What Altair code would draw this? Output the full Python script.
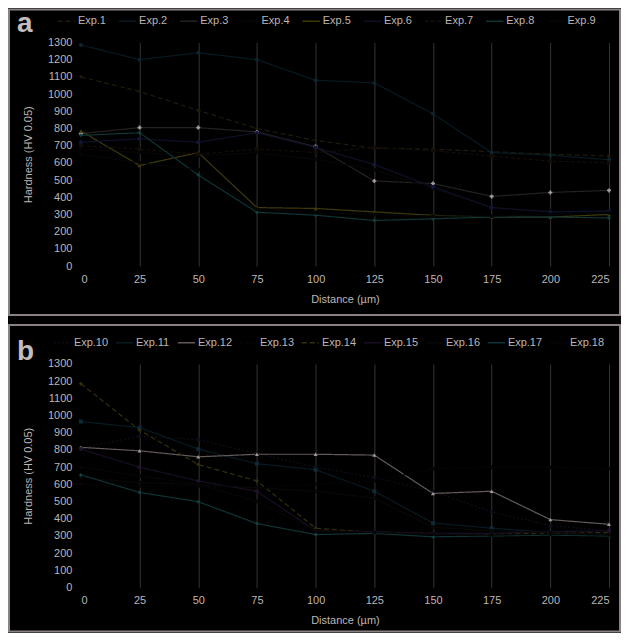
import pandas as pd
import altair as alt

# distance from the surface, µm
distance = [0, 25, 50, 75, 100, 125, 150, 175, 200, 225]

# panel a, hardness HV 0.05
exp1 = [1100, 1015, 905, 800, 730, 685, 680, 665, 650, 640]
exp2 = [1285, 1200, 1240, 1200, 1080, 1065, 885, 660, 645, 618]
exp3 = [770, 805, 805, 780, 695, 495, 480, 405, 428, 440]
exp4 = [680, 660, 640, 660, 620, 560, 450, 340, 320, 320]
exp5 = [785, 585, 660, 340, 335, 315, 295, 285, 285, 300]
exp6 = [720, 740, 720, 775, 690, 590, 460, 340, 315, 320]
exp7 = [700, 680, 650, 680, 660, 690, 670, 640, 610, 600]
exp8 = [760, 775, 530, 313, 296, 265, 275, 285, 285, 280]
exp9 = [650, 600, 560, 330, 310, 300, 290, 290, 300, 310]

# panel b
exp10 = [810, 880, 860, 780, 700, 640, 560, 440, 360, 330]
exp11 = [965, 930, 805, 720, 685, 560, 375, 345, 320, 310]
exp12 = [815, 795, 760, 775, 775, 770, 547, 560, 395, 368]
exp13 = [600, 590, 590, 580, 600, 620, 690, 700, 700, 690]
exp14 = [1185, 915, 715, 620, 345, 320, 315, 310, 315, 320]
exp15 = [805, 700, 620, 560, 330, 325, 315, 315, 325, 330]
exp16 = [640, 610, 600, 580, 560, 520, 350, 330, 320, 310]
exp17 = [655, 553, 499, 372, 308, 315, 295, 300, 305, 300]
exp18 = [700, 650, 600, 500, 330, 320, 310, 305, 310, 305]

names_a = ["Exp.1", "Exp.2", "Exp.3", "Exp.4", "Exp.5", "Exp.6", "Exp.7", "Exp.8", "Exp.9"]
series_a = [exp1, exp2, exp3, exp4, exp5, exp6, exp7, exp8, exp9]
colors_a = ["#1e1c0a", "#071a22", "#242121", "#060606", "#3e3a0c", "#0e1028", "#120d07", "#0f3434", "#060606"]
points_a = ["#1e1c0a", "#0c2630", "#a8a0a0", "#060606", "#3e3a0c", "#14163a", "#120d07", "#134040", "#060606"]
dashes_a = [[5, 3], [1, 0], [1, 0], [1, 0], [1, 0], [1, 0], [4, 2], [1, 0], [1, 0]]
shapes_a = ["diamond", "circle", "cross", "circle", "triangle-up", "circle", "square", "diamond", "circle"]

names_b = ["Exp.10", "Exp.11", "Exp.12", "Exp.13", "Exp.14", "Exp.15", "Exp.16", "Exp.17", "Exp.18"]
series_b = [exp10, exp11, exp12, exp13, exp14, exp15, exp16, exp17, exp18]
colors_b = ["#0e0e1a", "#081a22", "#625a5a", "#060606", "#34300a", "#180e24", "#080808", "#0f3434", "#060606"]
points_b = ["#0e0e1a", "#0e2a34", "#a09898", "#060606", "#34300a", "#20122e", "#080808", "#134040", "#060606"]
dashes_b = [[2, 2], [1, 0], [1, 0], [4, 2], [5, 3], [1, 0], [1, 0], [1, 0], [1, 0]]
shapes_b = ["circle", "square", "triangle-up", "circle", "diamond", "circle", "circle", "diamond", "circle"]

FONT = "Liberation Sans"
TXT = "#bdb5b5"


def long_table(names, series):
    rows = []
    for name, vals in zip(names, series):
        for d, v in zip(distance, vals):
            rows.append({"series": name, "distance": d, "hardness": v})
    return pd.DataFrame(rows)


def panel(names, series, colors, pcolors, dashes, shapes, letter, letter_y, leg_x, col_pad,
          frame_top, frame_bottom):
    df = long_table(names, series)
    xenc = alt.X("distance:Q",
                 scale=alt.Scale(domain=[0, 225], nice=False, zero=False),
                 axis=alt.Axis(values=distance, title="Distance (µm)", grid=True,
                               gridColor="#363232", gridWidth=1,
                               gridOpacity={"condition": {"test": "datum.value === 0", "value": 0}, "value": 1},
                               ticks=False, domain=False, labelPadding=7, titlePadding=9,
                               labelColor=TXT, titleColor=TXT, labelFont=FONT, titleFont=FONT,
                               labelFontSize=11, titleFontSize=11, titleFontWeight="normal"))
    yenc = alt.Y("hardness:Q",
                 scale=alt.Scale(domain=[0, 1300], nice=False),
                 axis=alt.Axis(values=list(range(0, 1400, 100)), format="d", title="Hardness (HV 0.05)",
                               grid=False, ticks=False, domain=False, labelPadding=9, titlePadding=14,
                               labelOverlap=False,
                               labelColor=TXT, titleColor=TXT, labelFont=FONT, titleFont=FONT,
                               labelFontSize=11, titleFontSize=11, titleFontWeight="normal"))
    lines = alt.Chart(df).mark_line(strokeWidth=1.2).encode(
        x=xenc, y=yenc,
        color=alt.Color("series:N", sort=names,
                        scale=alt.Scale(domain=names, range=colors),
                        legend=alt.Legend(title=None, orient="none", legendX=leg_x, legendY=-31,
                                          direction="horizontal", columns=9, gridAlign="all",
                                          symbolType="stroke", symbolSize=300, symbolStrokeWidth=1.5,
                                          labelColor=TXT, labelFont=FONT, labelFontSize=11,
                                          labelOffset=2, columnPadding=col_pad)),
        strokeDash=alt.StrokeDash("series:N", scale=alt.Scale(domain=names, range=dashes), legend=None),
    )
    layers = [lines]
    # markers drawn series by series, fixed style, so they stay out of the legend
    for name, pc, sh in zip(names, pcolors, shapes):
        layers.append(
            alt.Chart(df).transform_filter(alt.datum.series == name).mark_point(
                filled=True, size=16, strokeWidth=0, opacity=1, fill=pc, shape=sh
            ).encode(x=xenc, y=yenc)
        )
    deco = pd.DataFrame({"label": [letter]})
    frame = alt.Chart(deco).mark_rect(fill="transparent", stroke="#8a8282", strokeWidth=2).encode(
        x=alt.value(-72), x2=alt.value(540), y=alt.value(frame_top), y2=alt.value(frame_bottom)
    )
    tag = alt.Chart(deco).mark_text(font=FONT, fontSize=28, fontWeight="bold", color="#c4bcbc",
                                    align="left", baseline="alphabetic").encode(
        text="label:N", x=alt.value(-64), y=alt.value(letter_y)
    )
    return alt.layer(frame, *layers, tag).properties(width=529, height=224)


top = panel(names_a, series_a, colors_a, points_a, dashes_a, shapes_a, "a", -10, -24, 8.3, -33, 273)
bottom = panel(names_b, series_b, colors_b, points_b, dashes_b, shapes_b, "b", -4, -28, 3.1, -39, 268)

chart = alt.vconcat(top, bottom, spacing=98, bounds="flush").resolve_scale(
    color="independent", strokeDash="independent"
).properties(
    padding=0, background="#000000"
).configure_view(stroke=None)

chart.save("out.html", embed_options={"renderer": "svg", "actions": False})
